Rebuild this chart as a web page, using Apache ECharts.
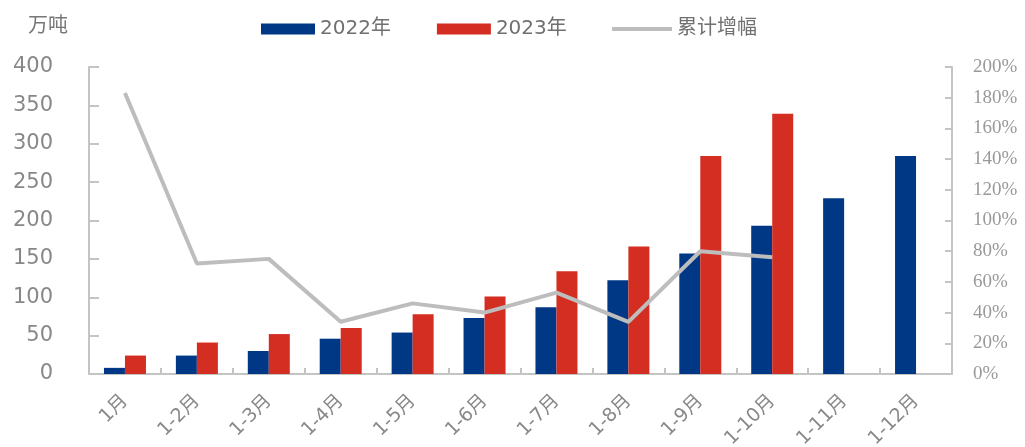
<!DOCTYPE html>
<html><head><meta charset="utf-8">
<script src="https://cdn.jsdelivr.net/npm/echarts@6/dist/echarts.min.js"></script>
<style>html,body{margin:0;padding:0;background:#fff}#c{width:1025px;height:447px}</style>
</head><body><div id="c"></div>
<script>
const categories = ['1月','1-2月','1-3月','1-4月','1-5月','1-6月','1-7月','1-8月','1-9月','1-10月','1-11月','1-12月'];
const values2022 = [8, 24, 30, 46, 54, 73, 87, 122, 157, 193, 229, 284];
const values2023 = [24, 41, 52, 60, 78, 101, 134, 166, 284, 339, null, null];
const growthPct = [183, 72, 75, 34, 46, 40, 53, 34, 80, 76, null, null];
const leftTicks = [0, 400, 50];
const rightTicks = [0, 200, 20];

const chart = echarts.init(document.getElementById('c'));
const axisCol = '#c4c4c4';
const legendText = {color: '#707070', fontSize: 20, fontFamily: 'DejaVu Sans, Noto Sans CJK SC'};
chart.setOption({
  animation: false,
  legend: [{
    top: 14, left: 256, itemGap: 46, itemWidth: 54, itemHeight: 11, icon: 'rect',
    textStyle: legendText,
    data: ['2022年', '2023年']
  }, {
    top: 14, left: 607, itemWidth: 60, itemHeight: 4, icon: 'rect',
    textStyle: legendText,
    data: ['累计增幅']
  }],
  graphic: [{type: 'text', left: 28, top: 14, style: {text: '万吨', fill: '#777', font: '20px "Noto Sans CJK SC"'}}],
  grid: {left: 89, right: 73, top: 67, bottom: 73, containLabel: false, outerBoundsMode: 'none'},
  xAxis: {
    type: 'category', data: categories,
    axisLine: {lineStyle: {color: axisCol, width: 2}},
    axisTick: {show: true, inside: true, length: 6, lineStyle: {color: axisCol, width: 2}},
    axisLabel: {rotate: 45, color: '#888', fontSize: 19, fontFamily: 'DejaVu Sans, Noto Sans CJK SC', margin: 24, interval: 0}
  },
  yAxis: [{
    type: 'value', min: leftTicks[0], max: leftTicks[1], interval: leftTicks[2],
    splitLine: {show: false},
    axisLine: {show: true, lineStyle: {color: axisCol, width: 2}},
    axisTick: {show: true, inside: true, length: 10, lineStyle: {color: axisCol, width: 2}},
    axisLabel: {color: '#888', fontSize: 21, fontFamily: 'DejaVu Sans', margin: 36}
  }, {
    type: 'value', min: rightTicks[0], max: rightTicks[1], interval: rightTicks[2], position: 'right',
    splitLine: {show: false},
    axisLine: {show: true, lineStyle: {color: axisCol, width: 2}},
    axisTick: {show: true, inside: true, length: 7, lineStyle: {color: axisCol, width: 2}},
    axisLabel: {color: '#999', fontSize: 19, fontFamily: 'Liberation Serif', margin: 21, formatter: '{value}%'}
  }],
  series: [
    {name: '2022年', type: 'bar', data: values2022, barWidth: 21, barGap: '0%', itemStyle: {color: '#003886'}},
    {name: '2023年', type: 'bar', data: values2023, barWidth: 21, barGap: '0%', itemStyle: {color: '#d42d21'}},
    {name: '累计增幅', type: 'line', yAxisIndex: 1, data: growthPct, symbol: 'none',
     lineStyle: {color: '#bdbdbd', width: 4}, itemStyle: {color: '#bdbdbd'}}
  ]
});
</script></body></html>
